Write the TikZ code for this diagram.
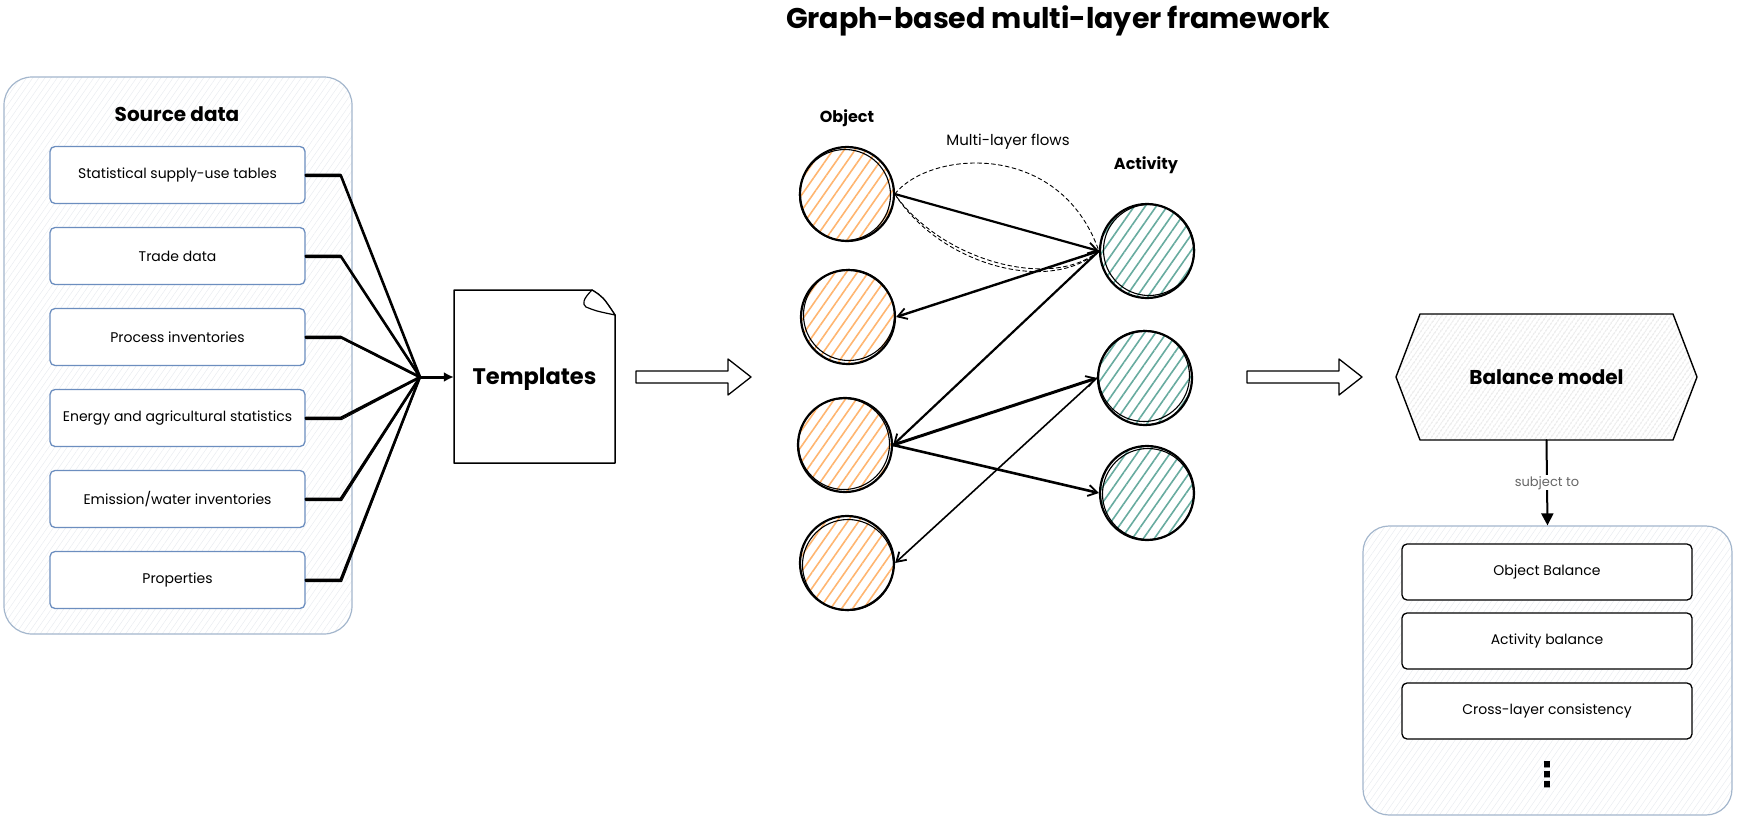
\documentclass[tikz,border=0pt]{standalone}
\usepackage{fontspec}
\setmainfont{Poppins}
\newfontfamily\dejavufam{DejaVu Sans}
\usetikzlibrary{arrows.meta,patterns.meta,calc}
\definecolor{srcb}{HTML}{A3B6CC}
\definecolor{boxb}{HTML}{6C8EBF}
\definecolor{objc}{HTML}{FFB570}
\definecolor{actc}{HTML}{67AB9F}
\definecolor{hatchg}{HTML}{CFCFCF}
\definecolor{faint}{HTML}{E9ECF0}
\definecolor{lblgray}{HTML}{666666}
\begin{document}
\begin{tikzpicture}[x=1pt,y=-1pt,
  line join=round, line cap=round,
  container/.style={draw=srcb, line width=1.2pt, rounded corners=28pt,
     pattern={Lines[angle=55,distance=5pt,line width=0.5pt]}, pattern color=faint},
  srcitem/.style={draw=boxb, line width=1.3pt, fill=white, rounded corners=5pt,
     minimum width=255pt, minimum height=57pt, inner sep=0pt,
     font=\fontsize{14}{16}\selectfont},
  consitem/.style={draw=black, line width=1.3pt, fill=white, rounded corners=5pt,
     minimum width=290pt, minimum height=56pt, inner sep=0pt,
     font=\fontsize{14}{16}\selectfont},
  objnode/.style={circle, draw=black, line width=2.2pt, minimum size=94pt, inner sep=0pt,
     pattern={Lines[angle=55,distance=9pt,line width=1.6pt]}, pattern color=objc},
  actnode/.style={circle, draw=black, line width=2.2pt, minimum size=94pt, inner sep=0pt,
     pattern={Lines[angle=55,distance=9pt,line width=1.6pt]}, pattern color=actc},
  feed/.style={line width=2.6pt},
  flow/.style={line width=#1, -{Straight Barb[length=9pt,width=11pt,line width=1.8pt]}},
  dflow/.style={line width=0.9pt, dash pattern=on 4pt off 3pt},
  hollow/.style={draw=black, line width=1.3pt, fill=white},
  boldlbl/.style={font=\bfseries\fontsize{#1}{#1}\selectfont},
]
\useasboundingbox (0,0) rectangle (1741,822);

% title
\node[boldlbl=28.5, anchor=base] (title) at (1058,28) {Graph-based multi-layer framework};

% ---------- source data ----------
\node[container, minimum width=348pt, minimum height=557pt] (src) at (178,355.5) {};
\node[boldlbl=20] (srclbl) at (177,114) {Source data};
\node[srcitem] (s1) at (177.5,175) {Statistical supply-use tables};
\node[srcitem] (s2) at (177.5,256) {Trade data};
\node[srcitem] (s3) at (177.5,337) {Process inventories};
\node[srcitem] (s4) at (177.5,418) {Energy and agricultural statistics};
\node[srcitem] (s5) at (177.5,499) {Emission/water inventories};
\node[srcitem] (s6) at (177.5,580) {Properties};

% ---------- templates ----------
\draw[line width=1.5pt, fill=white] (454,290) -- (592,290) .. controls (603,297) .. (615,315)
   -- (615,463) -- (454,463) -- cycle;
\draw[line width=1.2pt, fill=white] (592,290) .. controls (583,299) and (582,304) .. (586,307)
   .. controls (596,311) .. (615,315) .. controls (603,297) .. (592,290);
\node[boldlbl=22.5, minimum width=161pt, minimum height=173pt] (tpl) at (534.5,379) {Templates};

\coordinate (hub) at (420,377);
\foreach \i in {1,...,6}{
  \draw[feed] (s\i.east) -- ++(35,0) -- (hub);
  \draw[line width=1pt] ($(s\i.east)+(0,1.5)$) -- ++(36,0) -- ($(hub)+(0,1)$);
}
\draw[line width=3pt, -{Latex[length=10pt,width=10pt]}] (hub) -- (tpl.west |- hub);

% hollow arrow 1
\draw[hollow] (636,371) -- (728,371) -- (728,359) -- (751,377) -- (728,395) -- (728,383) -- (636,383) -- cycle;

% ---------- graph ----------
\node[boldlbl=16] (objlbl) at (847,118) {Object};
\node[boldlbl=16] (actlbl) at (1146,165) {Activity};
\node[font=\fontsize{15}{17}\selectfont] (mlf) at (1008,142) {Multi-layer flows};

\node[objnode] (o1) at (847,194) {};
\node[objnode] (o2) at (848,317) {};
\node[objnode] (o3) at (845,445) {};
\node[objnode] (o4) at (847,563) {};
\node[actnode] (a1) at (1147,251) {};
\node[actnode] (a2) at (1145,378) {};
\node[actnode] (a3) at (1147,493) {};
% sketch second strokes
\foreach \n/\dx/\dy in {o1/-2/1, o2/1/-2, o3/-1/-1, o4/1/2, a1/2/-1, a2/-1/-2, a3/1/1}{
  \draw[line width=1.1pt] ($(\n.center)+(\dx,\dy)$) circle (45.5pt);
}

\draw[dflow] (o1.east) .. controls (930,150) and (1060,140) .. (a1.west);
\draw[dflow] (o1.east) .. controls (940,265) and (1050,295) .. (a1.west);
\draw[dflow] ($(o1.east)+(2,3)$) .. controls (945,262) and (1052,290) .. (a1.west);

\draw[flow=2.2pt] (o1.east) -- (a1.west);
\draw[flow=2.4pt] (a1.west) -- (o2.east);
\draw[flow=2.2pt] (a1.west) -- (o3.east);
\draw[flow=3pt] (o3.east) -- (a2.west);
\draw[flow=2.6pt] (o3.east) -- (a3.west);
\draw[flow=1.6pt] (a2.west) -- (o4.east);

% hollow arrow 2
\draw[hollow] (1247,371) -- (1339,371) -- (1339,359) -- (1362,377) -- (1339,395) -- (1339,383) -- (1247,383) -- cycle;

% ---------- balance model ----------
\draw[line width=1.4pt, pattern={Lines[angle=55,distance=4pt,line width=0.6pt]}, pattern color=hatchg]
  (1396,377) -- (1420,314) -- (1673,314) -- (1697,377) -- (1673,440) -- (1420,440) -- cycle;
\node[boldlbl=20, minimum width=300pt, minimum height=126pt] (bm) at (1546.5,377) {Balance model};

\node[container, rounded corners=26pt, minimum width=369pt, minimum height=289pt] (cons) at (1547.5,670.5) {};
\node[consitem] (c1) at (1547,572) {Object Balance};
\node[consitem] (c2) at (1547,641) {Activity balance};
\node[consitem] (c3) at (1547,711) {Cross-layer consistency};
\node[font=\dejavufam\bfseries\fontsize{34}{36}\selectfont, inner sep=0pt] (dots) at (1547,775) {⋮};

\draw[line width=2pt, -{Triangle[length=12pt,width=12pt]}] (bm.south) --
  node[fill=white, inner sep=1pt, text=lblgray, font=\fontsize{13}{15}\selectfont] (subj) {subject to} (cons.north);
\end{tikzpicture}
\end{document}
